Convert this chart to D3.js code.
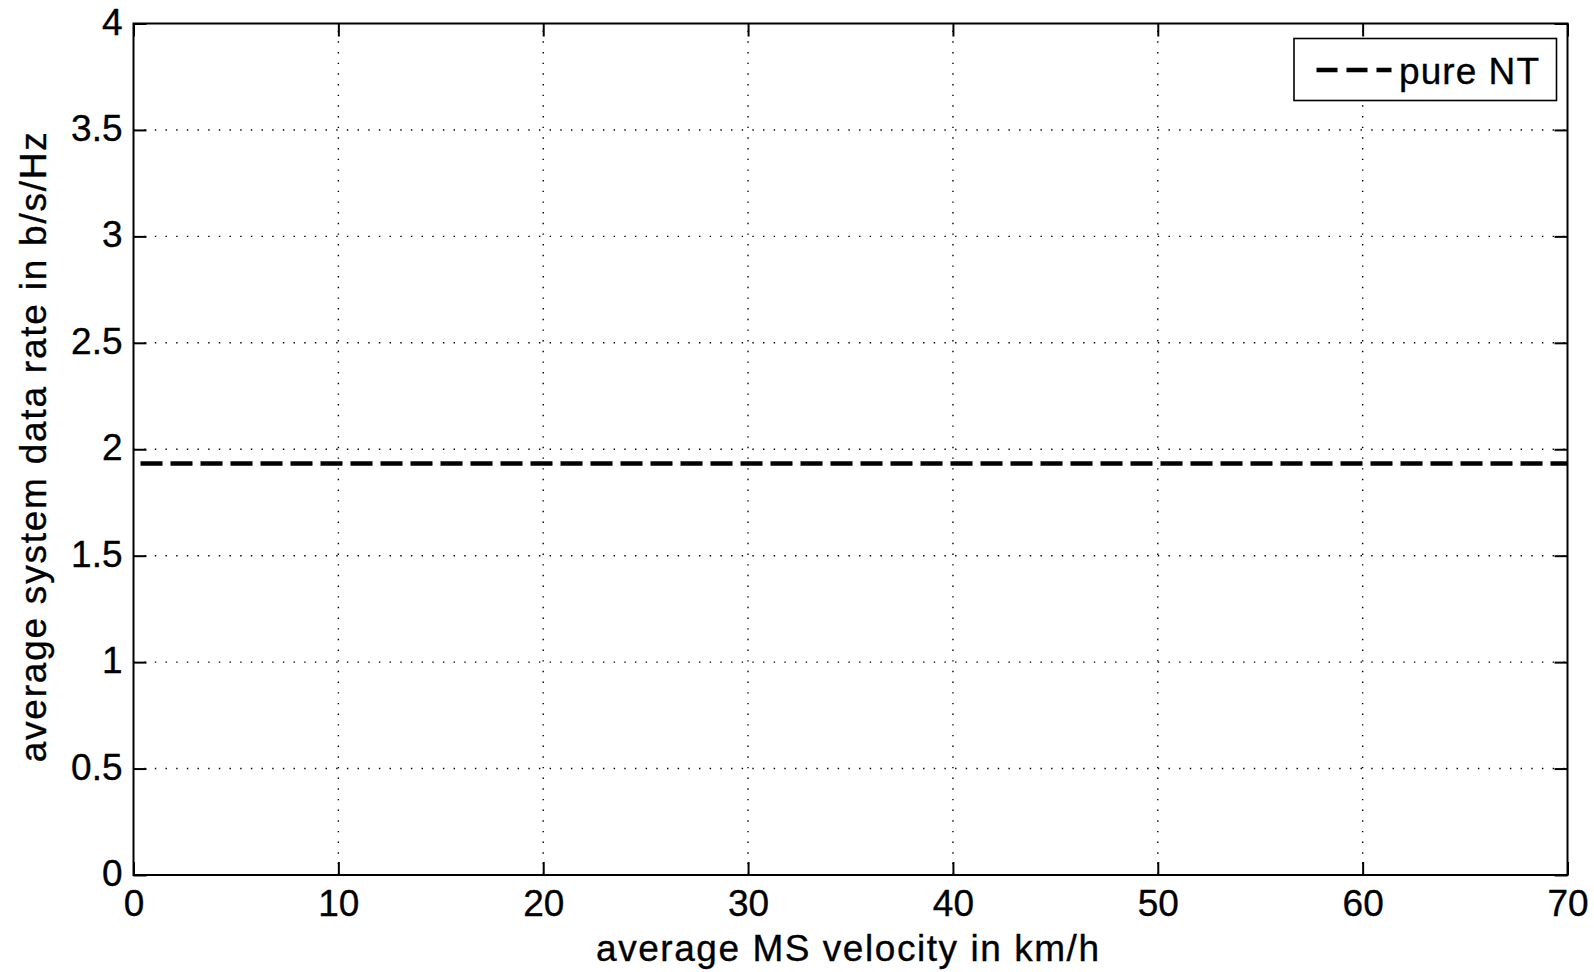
<!DOCTYPE html>
<html>
<head>
<meta charset="utf-8">
<script src="https://cdn.jsdelivr.net/npm/d3@7"></script>
<style>
  html, body { margin: 0; padding: 0; background: #fff; }
  svg { display: block; }
  text { font-family: "Liberation Sans", Arial, Helvetica, sans-serif; fill: #000; stroke: #000; stroke-width: 0.35px; }
</style>
</head>
<body>
<svg id="chart" width="1594" height="972"></svg>
<script>
// ---- data ----
const xTicks = [0, 10, 20, 30, 40, 50, 60, 70];
const yTicks = [0, 0.5, 1, 1.5, 2, 2.5, 3, 3.5, 4];
const yTickLabels = ["0", "0.5", "1", "1.5", "2", "2.5", "3", "3.5", "4"];
const seriesName = "pure NT";
const seriesX = [0, 70];
const seriesY = [1.933, 1.933];
const xLabel = "average MS velocity in km/h";
const yLabel = "average system data rate in b/s/Hz";

// ---- layout ----
const W = 1594, H = 972;
const L = 133.5, R = 1567.5, T = 23.5, B = 875;
const svg = d3.select("#chart");

const x = d3.scaleLinear().domain([0, 70]).range([L, R]);
const y = d3.scaleLinear().domain([0, 4]).range([B, T]);

// grid (dotted)
const grid = svg.append("g").attr("stroke", "#000").attr("stroke-width", 1.4)
  .attr("stroke-dasharray", "1.4,9.27");
xTicks.filter(v => v > 0 && v < 70).forEach(v => {
  grid.append("line").attr("x1", x(v)).attr("x2", x(v)).attr("y1", B).attr("y2", T);
});
yTicks.filter(v => v > 0 && v < 4).forEach(v => {
  grid.append("line").attr("x1", L).attr("x2", R).attr("y1", y(v)).attr("y2", y(v));
});

// series
const line = d3.line().x((d, i) => x(seriesX[i])).y(d => y(d));
svg.append("path").datum(seriesY).attr("d", line)
  .attr("fill", "none").attr("stroke", "#000").attr("stroke-width", 4.5)
  .attr("stroke-dasharray", "22,8").attr("stroke-dashoffset", 23);

// axes box
svg.append("rect").attr("x", L).attr("y", T).attr("width", R - L).attr("height", B - T)
  .attr("fill", "none").attr("stroke", "#000").attr("stroke-width", 2);

// axes (ticks inward, mirrored)
const tickLen = 13;
const axB = d3.axisBottom(x).tickValues(xTicks).tickSize(-tickLen).tickFormat(d3.format("d"));
const axT = d3.axisTop(x).tickValues(xTicks).tickSize(-tickLen).tickFormat("");
const axL = d3.axisLeft(y).tickValues(yTicks).tickSize(-tickLen).tickPadding(11).tickFormat((d, i) => yTickLabels[i]);
const axR = d3.axisRight(y).tickValues(yTicks).tickSize(-tickLen).tickFormat("");

function style(g) {
  g.select(".domain").remove();
  g.selectAll(".tick line").attr("stroke", "#000").attr("stroke-width", 2);
  g.selectAll(".tick text").attr("font-size", 37).attr("font-family", "Liberation Sans, Arial, sans-serif").attr("fill", "#000");
}
const gB = svg.append("g").attr("transform", `translate(0,${B})`).call(axB).call(style);
svg.append("g").attr("transform", `translate(0,${T})`).call(axT).call(style);
const gL = svg.append("g").attr("transform", `translate(${L},0)`).call(axL).call(style);
svg.append("g").attr("transform", `translate(${R},0)`).call(axR).call(style);

gB.selectAll(".tick text").attr("y", 41).attr("dy", null);
gL.selectAll(".tick text").attr("dy", "0.34em").attr("y", -2);

// axis titles
svg.append("text").attr("x", (L + R) / 2 - 3).attr("y", 961)
  .attr("text-anchor", "middle").attr("font-size", 37)
  .attr("textLength", 503).attr("lengthAdjust", "spacing").text(xLabel);
svg.append("text").attr("transform", `translate(46,${(T + B) / 2 - 2}) rotate(-90)`)
  .attr("text-anchor", "middle").attr("font-size", 37)
  .attr("textLength", 630).attr("lengthAdjust", "spacing").text(yLabel);

// legend
const lg = svg.append("g");
lg.append("rect").attr("x", 1294).attr("y", 38.5).attr("width", 262.5).attr("height", 62)
  .attr("fill", "#fff").attr("stroke", "#000").attr("stroke-width", 1.6);
lg.append("line").attr("x1", 1316.5).attr("x2", 1391.5).attr("y1", 70).attr("y2", 70)
  .attr("stroke", "#000").attr("stroke-width", 4.5).attr("stroke-dasharray", "21,9");
lg.append("text").attr("x", 1399).attr("y", 84).attr("font-size", 37)
  .attr("textLength", 140).attr("lengthAdjust", "spacing").text(seriesName);
</script>
</body>
</html>
